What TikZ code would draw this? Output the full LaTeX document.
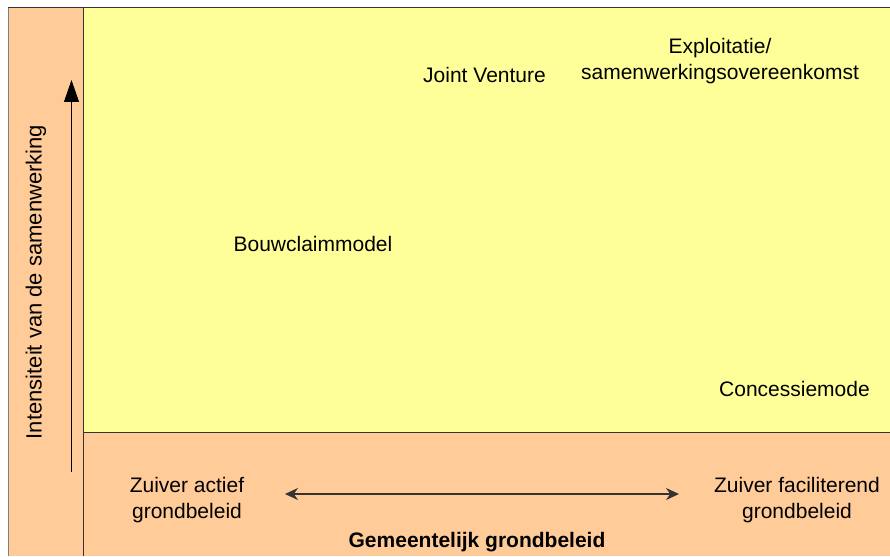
\documentclass[tikz,border=0pt]{standalone}
\usepackage{fontspec}
\setmainfont{Liberation Sans}
\usetikzlibrary{arrows.meta,positioning}
\definecolor{peach}{HTML}{FFCC99}
\definecolor{lemon}{HTML}{FFFF99}
\definecolor{rule}{HTML}{333333}
\tikzset{lbl/.style={font=\fontsize{21}{26}\selectfont,align=center,inner sep=0pt,anchor=base},panel/.style={draw=rule,line width=1pt},dbl/.style={{Stealth[length=13pt,width=12pt]}-{Stealth[length=13pt,width=12pt]},line width=1.2pt,draw=rule},up/.style={-{Triangle[length=22pt,width=15pt]},line width=1.2pt}}
\begin{document}
\begin{tikzpicture}[x=1pt,y=-1pt]
\useasboundingbox (0,0) rectangle (890,556);
\fill[white] (0,0) rectangle (890,556);
\fill[peach] (8,8) rectangle (890,556);
\fill[lemon] (83,8) rectangle (890,432);
\draw[panel,draw=gray] (8,556)--(8,8);
\draw[panel] (8,8)--(890,8);
\draw[panel] (83,8)--(83,556);
\draw[panel] (83,432)--(890,432);
% labels
\node[lbl] (jv) at (484.5,83) {Joint Venture};
\node[lbl] (expl) at (720,79.5) {Exploitatie/\\samenwerkingsovereenkomst};
\node[lbl] (bcm) at (313,251.5) {Bouwclaimmodel};
\node[lbl,anchor=base west] (conc) at (719,396) {Concessiemode};
\node[lbl] (actief) at (187,518.5) {Zuiver actief\\grondbeleid};
\node[lbl] (facil) at (797,518.5) {Zuiver faciliterend\\grondbeleid};
\node[lbl,font=\fontsize{21}{26}\selectfont\bfseries] (gem) at (477,547.3) {Gemeentelijk grondbeleid};
\node[lbl,rotate=90,anchor=center,font=\fontsize{22}{26}\selectfont] (ints) at (36,282) {Intensiteit van de samenwerking};
% arrows
\coordinate (upfoot) at (71.5,472);\coordinate (uptip) at (71.5,80);
\draw[up](upfoot)--(uptip);
\coordinate (lft) at (285,494);\coordinate (rgt) at (679,494);
\draw[dbl](lft)--(rgt);
\end{tikzpicture}
\end{document}
